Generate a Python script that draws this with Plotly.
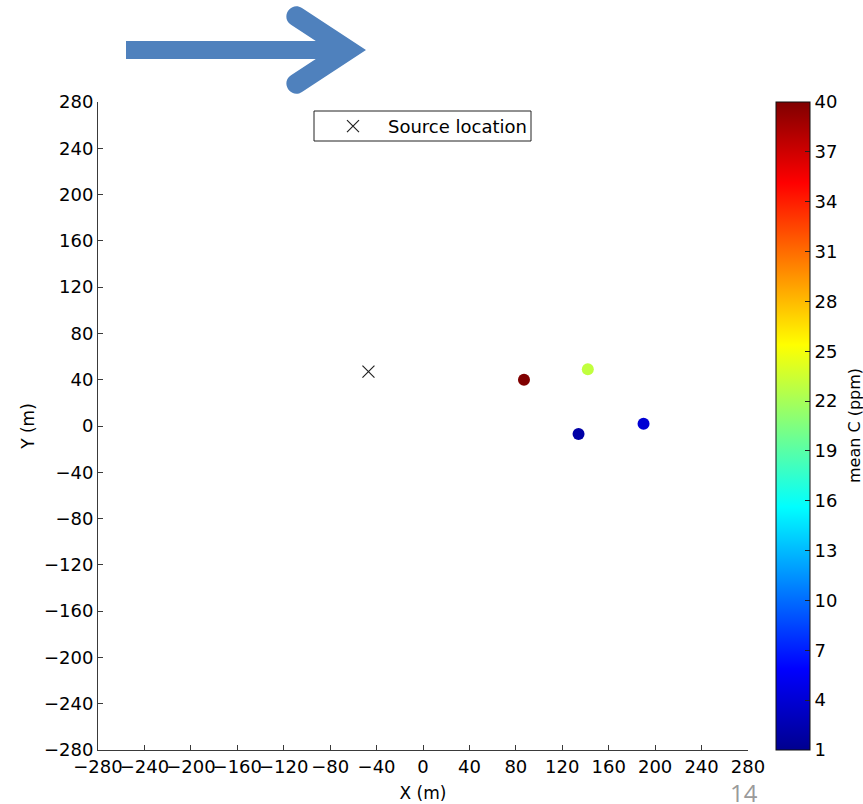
import plotly.graph_objects as go

# ---------------- data ----------------
src_x = [-47]
src_y = [47]
sensor_x = [87, 142, 134, 190]
sensor_y = [40, 49, -7, 2]
sensor_c = [40, 23, 2, 4]          # mean C (ppm)
axis_ticks = list(range(-280, 281, 40))
cbar_ticks = list(range(1, 41, 3))
page_number = "14"

# ---------------- layout geometry ----------------
W, H = 863, 804
ML, MR, MT, MB = 98, 115, 102, 54
PW, PH = W - ML - MR, H - MT - MB


def px(x):
    return (x - ML) / PW


def py(y):
    return (H - MB - y) / PH


jet = [
    [0.0, "rgb(0,0,143)"],
    [0.125, "rgb(0,0,255)"],
    [0.375, "rgb(0,255,255)"],
    [0.625, "rgb(255,255,0)"],
    [0.875, "rgb(255,0,0)"],
    [1.0, "rgb(128,0,0)"],
]

FONT = "DejaVu Sans"
FS = 18
AXC = "#3a3a3a"

fig = go.Figure()

fig.add_trace(go.Scatter(
    x=src_x, y=src_y, mode="markers", name="Source location",
    marker=dict(symbol="x-thin", size=12, color="#222",
                line=dict(width=1.2, color="#222")),
    showlegend=True,
))

fig.add_trace(go.Scatter(
    x=sensor_x, y=sensor_y, mode="markers", showlegend=False,
    marker=dict(
        size=12, color=sensor_c, colorscale=jet, cmin=1, cmax=40,
        line=dict(width=0),
        colorbar=dict(
            x=px(776), xanchor="left", xpad=0,
            y=0.5, yanchor="middle", len=1, lenmode="fraction", ypad=0,
            thickness=34, thicknessmode="pixels",
            outlinecolor="#111", outlinewidth=1,
            tickmode="array", tickvals=cbar_ticks,
            ticks="inside", ticklen=5, tickcolor="#222",
            tickfont=dict(family=FONT, size=FS, color="#000"),
        ),
    ),
))

# ---------------- arrow decoration (pixel -> paper) ----------------
T = (366.0, 50.0)
v = (0.836, 0.548)
w = 20.0
Larm = 76.6
O1 = (T[0] - Larm * v[0], T[1] - Larm * v[1])
I1 = (O1[0] - 0.548 * w, O1[1] + 0.836 * w)
tj = (41 - I1[1]) / v[1]
J1 = (I1[0] + tj * v[0], 41.0)
k = 4.0 / 3.0 * (w / 2)
cI1 = (I1[0] - k * v[0], I1[1] - k * v[1])
cO1 = (O1[0] - k * v[0], O1[1] - k * v[1])


def mir(p):
    return (p[0], 100.0 - p[1])


def P(p):
    return f"{px(p[0]):.5f},{py(p[1]):.5f}"


path = (
    f"M {P((126, 41))} L {P(J1)} L {P(I1)} "
    f"C {P(cI1)} {P(cO1)} {P(O1)} L {P(T)} L {P(mir(O1))} "
    f"C {P(mir(cO1))} {P(mir(cI1))} {P(mir(I1))} L {P(mir(J1))} "
    f"L {P((126, 59))} Z"
)

shapes = [
    dict(type="path", xref="paper", yref="paper", path=path,
         fillcolor="#4F81BD", line=dict(width=0), layer="above"),
    dict(type="rect", xref="paper", yref="paper",
         x0=px(314), x1=px(531), y0=py(141), y1=py(111),
         line=dict(color="#222", width=1), fillcolor="rgba(0,0,0,0)"),
]

axis_common = dict(
    range=[-280, 280], tickmode="array", tickvals=axis_ticks,
    showgrid=False, zeroline=False, showline=True, linecolor=AXC,
    linewidth=1, mirror=False, ticks="inside", ticklen=5, tickcolor=AXC,
    tickfont=dict(family=FONT, size=FS, color="#000"), tickangle=0,
    automargin=False,
)

fig.update_layout(
    width=W, height=H,
    margin=dict(l=ML, r=MR, t=MT, b=MB, pad=0, autoexpand=False),
    paper_bgcolor="white", plot_bgcolor="white",
    font=dict(family=FONT, size=FS, color="#000"),
    xaxis=dict(**axis_common, title=dict(text="X (m)", standoff=11,
               font=dict(family=FONT, size=17))),
    yaxis=dict(**axis_common, title=dict(text="Y (m)", standoff=4,
               font=dict(family=FONT, size=17))),
    showlegend=True,
    legend=dict(x=px(318), y=py(108), xanchor="left", yanchor="top",
                bgcolor="rgba(0,0,0,0)", borderwidth=0,
                font=dict(family=FONT, size=FS, color="#000"),
                itemwidth=60),
    shapes=shapes,
    annotations=[
        dict(text="mean C (ppm)", xref="paper", yref="paper",
             x=px(854), y=0.5, xanchor="center", yanchor="middle",
             textangle=-90, showarrow=False,
             font=dict(family=FONT, size=16, color="#000")),
        dict(text=page_number, xref="paper", yref="paper",
             x=px(744), y=py(803), xanchor="center", yanchor="bottom",
             height=20, valign="middle", borderpad=0,
             showarrow=False,
             font=dict(family="Open Sans", size=24, color="#9a9a9a")),
    ],
)

fig.write_html("out.html", config={"displayModeBar": False},
               post_script="document.body.style.margin='0';")
